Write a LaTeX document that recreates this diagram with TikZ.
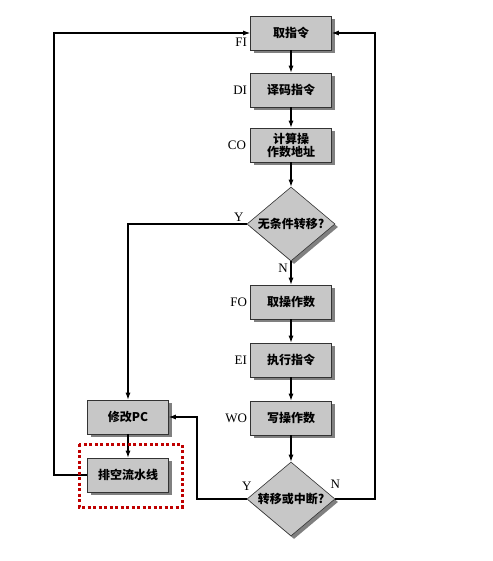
\documentclass[tikz,border=0pt]{standalone}
\usepackage{fontspec}
\setmainfont{Liberation Serif}
\newfontfamily\cjk{Noto Sans CJK SC}
\usetikzlibrary{positioning, shapes.geometric, shadows, arrows.meta}

\tikzset{
  stage/.style={draw=black!80, line width=0.6pt, fill=black!22,
    minimum width=81pt, minimum height=34pt, inner sep=1pt,
    font=\cjk\bfseries\fontsize{12}{13}\selectfont, align=center,
    drop shadow={shadow xshift=3pt, shadow yshift=-3pt, fill=black!50, opacity=1}},
  test/.style={stage, diamond, aspect=1.19, minimum width=88pt, minimum height=74pt, inner sep=0pt},
  tag/.style={font=\fontsize{13}{14}\selectfont, inner sep=2pt},
  flow/.style={line width=1.1pt, -{Latex[length=7pt,width=5pt]}}
}

\begin{document}
\begin{tikzpicture}[x=1pt, y=-1pt]

\useasboundingbox (0,0) rectangle (492,561);

% Main column
\node[stage] (fetch) at (291,33) {取指令};
\node[stage] (decode) at (291,90) {译码指令};
\node[stage] (calc) at (291,145) {计算操\\作数地址};
\node[test] (jump) at (291,224) {无条件转移?};
\node[stage] (fetchop) at (291,302) {取操作数};
\node[stage] (exec) at (291,360) {执行指令};
\node[stage] (write) at (291,418) {写操作数};
\node[test] (intr) at (291,499) {转移或中断?};

% Left column
\node[stage] (pc) at (128,417) {修改PC};
\node[stage] (flush) at (128,475) {排空流水线};

% Stage tags
\node[tag, anchor=north east] at ([xshift=-1pt, yshift=-3pt]fetch.west) {FI};
\node[tag, left=1pt of decode] {DI};
\node[tag, left=2pt of calc] {CO};
\node[tag, left=1pt of fetchop] {FO};
\node[tag, left=1pt of exec] {EI};
\node[tag, left=1pt of write] {WO};

% Corners
\coordinate (back) at (197,499);
\coordinate (right) at (375,33);
\coordinate (left) at (54,33);

% Connectors
\draw[flow] (fetch) -- (decode);
\draw[flow] (decode) -- (calc);
\draw[flow] (calc) -- (jump);
\draw[flow] (jump) -- (fetchop);
\draw[flow] (fetchop) -- (exec);
\draw[flow] (exec) -- (write);
\draw[flow] (write) -- (intr);
\draw[flow] (jump.west) -| (pc.north);
\draw[flow] (pc) -- (flush);
\draw[flow] (intr.west) -- (back) |- (pc.east);
\draw[flow] (intr.east) -| (right) -- (fetch.east);
\draw[flow] (flush.west) -| (left) -- (fetch.west);

% Branch tags
\node[tag, anchor=south east] at ([xshift=-1pt]jump.west) {Y};
\node[tag, anchor=north east] at ([xshift=-1pt]jump.south) {N};
\node[tag, anchor=south] at ([yshift=6pt]intr.west) {Y};
\node[tag, anchor=south] at ([yshift=8pt]intr.east) {N};

% Highlight
\draw[red!75!black, line width=3pt, dash pattern=on 3pt off 2.5pt] (79,444) rectangle (182,507);

\end{tikzpicture}
\end{document}
